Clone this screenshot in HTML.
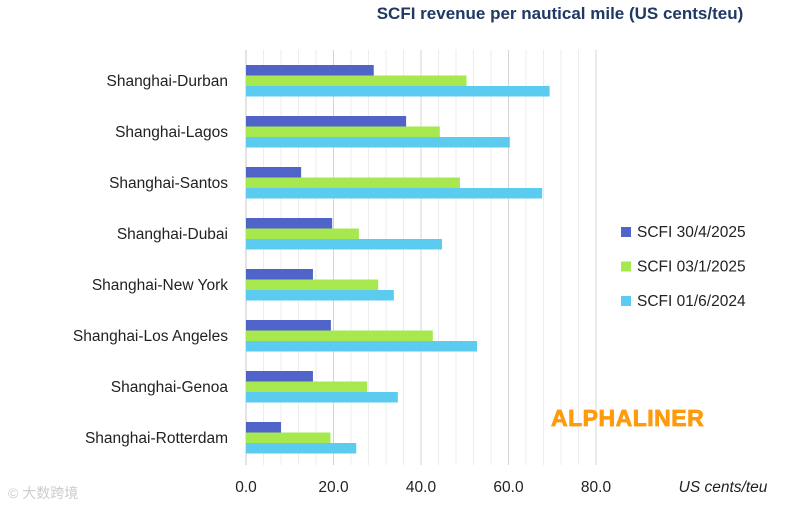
<!DOCTYPE html>
<html><head><meta charset="utf-8"><style>
body{margin:0;background:#fff;width:808px;height:508px;overflow:hidden;font-family:"Liberation Sans","Noto Sans CJK SC",sans-serif}
</style></head><body>
<svg id="chart" width="808" height="508" xmlns="http://www.w3.org/2000/svg" font-family="Liberation Sans, sans-serif">
<text x="560" y="19" text-anchor="middle" font-size="17" font-weight="bold" fill="#1f3864">SCFI revenue per nautical mile (US cents/teu)</text>
<g id="grid"></g><g id="bars"></g><g id="labels"></g>
<text x="723" y="492" text-anchor="middle" font-size="15.5" font-style="italic" fill="#222">US cents/teu</text>
<text x="551" y="426" font-size="23" font-weight="900" fill="#ff9a0a" letter-spacing="0.5" stroke="#ff9a0a" stroke-width="0.8">ALPHALINER</text>
<text x="8" y="498" font-size="14" fill="#ccc">© 大数跨境</text>
<g id="legend"></g>
</svg>
<script>
const categories=["Shanghai-Durban","Shanghai-Lagos","Shanghai-Santos","Shanghai-Dubai","Shanghai-New York","Shanghai-Los Angeles","Shanghai-Genoa","Shanghai-Rotterdam"];
const s2025apr=[29.2,36.6,12.6,19.7,15.3,19.4,15.3,8.0];
const s2025jan=[50.4,44.3,48.9,25.8,30.2,42.7,27.7,19.3];
const s2024jun=[69.4,60.3,67.7,44.8,33.8,52.8,34.7,25.2];
const seriesNames=["SCFI 30/4/2025","SCFI 03/1/2025","SCFI 01/6/2024"];
const ticks=[0,20,40,60,80];
const colors=["#4f63c8","#a6e84e","#5ccbf0"];
const NS="http://www.w3.org/2000/svg";
const x=v=>246+v*350/80;
const top0=55,band=51,barH=10.5;
function el(t,a,p){const e=document.createElementNS(NS,t);for(const k in a)e.setAttribute(k,a[k]);document.getElementById(p).appendChild(e);return e;}
for(let v=0;v<=80;v+=4){
 const g=el('line',{x1:x(v),x2:x(v),y1:50,y2:465,stroke:v%20===0?'#d4d4d4':'#ececec','stroke-width':v===0?1.3:1},'grid');
 
 
}
ticks.forEach(t=>{
 const e=el('text',{x:x(t),y:492,'text-anchor':'middle','font-size':15.5,fill:'#222'},'labels');
 e.textContent=t.toFixed(1);
 
 
});
const series=[s2025apr,s2025jan,s2024jun];
categories.forEach((c,i)=>{
 const y0=top0+i*band+10;
 const t=el('text',{x:228,y:y0+barH*1.5+5,'text-anchor':'end','font-size':15.5,fill:'#222'},'labels');
 t.textContent=c;
 
 
 series.forEach((s,j)=>{
  const r=el('rect',{x:x(0),y:y0+j*barH,width:x(s[i])-x(0),height:barH,fill:colors[j]},'bars');
  
  
 });
});
seriesNames.forEach((n,j)=>{
 const y=233+j*34.5;
 const r=el('rect',{x:621,y:y-6,width:10,height:10,fill:colors[j]},'legend');
 
 
 const t=el('text',{x:637,y:y+4,'font-size':15.5,fill:'#222'},'legend');
 t.textContent=n;
 
 
});
</script>
</body></html>
